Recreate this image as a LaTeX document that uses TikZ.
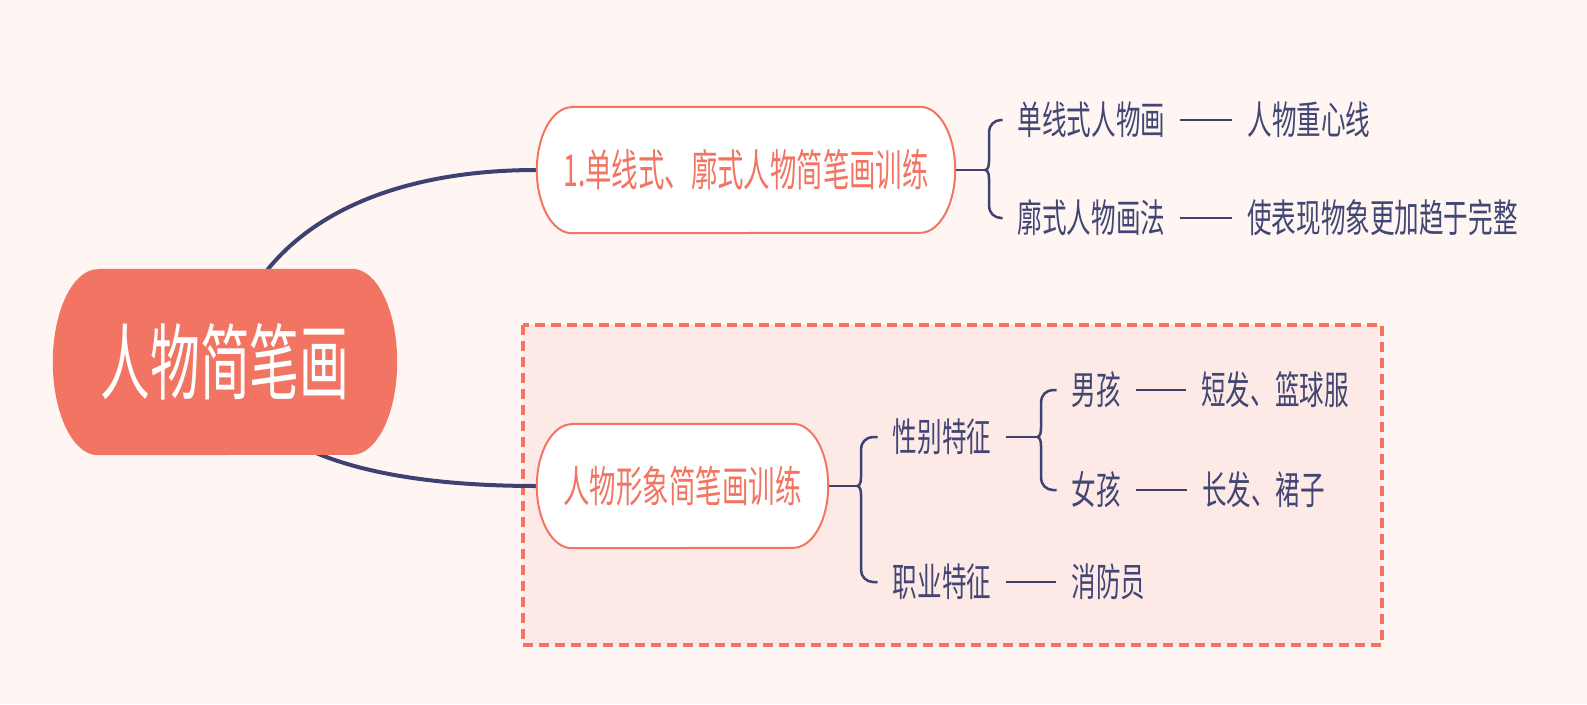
\documentclass[tikz,border=0pt]{standalone}
\usepackage{fontspec}
\newfontfamily\cjk{Noto Sans CJK SC}
\usetikzlibrary{calc}
\pgfdeclarelayer{bglayer}
\pgfdeclarelayer{lines}
\pgfdeclarelayer{pills}
\pgfsetlayers{bglayer,lines,pills,main}
\definecolor{bgc}{RGB}{255,246,244}
\definecolor{boxfill}{RGB}{253,234,231}
\definecolor{salmon}{RGB}{242,117,99}
\definecolor{navy}{RGB}{62,66,112}
\definecolor{navytext}{RGB}{66,70,114}
\newcommand\sq[2][0.63]{\scalebox{#1}[1]{#2}}
\newcommand\mypill[4]{\path[#4] ($(#1.north west)+(#2,0)$) -- ($(#1.north east)+(-#2,0)$) arc[start angle=-90,end angle=90,x radius=#2,y radius=#3] -- ($(#1.south west)+(#2,0)$) arc[start angle=90,end angle=270,x radius=#2,y radius=#3] -- cycle;}
\newcommand\bracehalf[4]{\draw[link] (#1) .. controls +(3,0) and +(0,#4) .. ($(#1)+(4,#3)$) [rounded corners=12pt] |- (#2.west);}
\tikzset{
  boundary/.style={draw=salmon, line width=3.5pt, dash pattern=on 10pt off 6pt, fill=boxfill},
  mainline/.style={draw=navy, line width=4pt},
  link/.style={draw=navy, line width=2.5pt},
  pillstyle/.style={fill=white, draw=salmon, line width=2pt},
  rootstyle/.style={fill=salmon},
  lbl/.style={text=navytext, font=\cjk\fontsize{39pt}{39pt}\selectfont, inner xsep=15pt, inner ysep=0pt, text height=32pt, text depth=2.4pt},
  topicone/.style={text=salmon, font=\cjk\fontsize{44pt}{44pt}\selectfont, inner sep=0pt, text height=36pt, text depth=2.6pt},
  topictwo/.style={text=salmon, font=\cjk\fontsize{43pt}{43pt}\selectfont, inner sep=0pt, text height=35.3pt, text depth=2.6pt},
  rootnode/.style={text=white, font=\cjk\fontsize{83pt}{83pt}\selectfont, inner sep=0pt, text height=68pt, text depth=5pt},
}
\begin{document}
\begin{tikzpicture}[x=1pt,y=-1pt]
\useasboundingbox (0,0) rectangle (1587,704);
\begin{pgfonlayer}{bglayer}
  \fill[bgc] (0,0) rectangle (1587,704);
  \path[boundary] (523,325) rectangle (1382,645);
\end{pgfonlayer}

% main nodes
\node[rootnode, minimum width=344pt, minimum height=186pt] (root) at (225,362) {\sq[0.6]{人物简笔画}};
\node[topicone, minimum width=418pt, minimum height=126pt] (n1) at (746,170) {\sq[0.6]{1.单线式、廓式人物简笔画训练}};
\node[topictwo, minimum width=291pt, minimum height=124pt] (n2) at (682.5,486) {\sq[0.615]{人物形象简笔画训练}};

% leaves of topic one
\node[lbl] (a1) at (1091.5,120) {\sq{单线式人物画}};
\node[lbl] (a1b) at (1309,120) {\sq{人物重心线}};
\node[lbl] (a2) at (1091.5,218) {\sq{廓式人物画法}};
\node[lbl] (a2b) at (1382.5,218) {\sq{使表现物象更加趋于完整}};

% leaves of topic two
\node[lbl] (g1) at (942,437) {\sq{性别特征}};
\node[lbl] (g2) at (942,582) {\sq{职业特征}};
\node[lbl] (g2b) at (1108.5,582) {\sq{消防员}};
\node[lbl] (b1) at (1096.5,390) {\sq{男孩}};
\node[lbl] (b1b) at (1275,390) {\sq{短发、篮球服}};
\node[lbl] (b2) at (1096.5,490) {\sq{女孩}};
\node[lbl] (b2b) at (1263.5,490) {\sq{长发、裙子}};

\coordinate (c1) at (985,170);
\coordinate (c2) at (857,486);
\coordinate (c3) at (1037,437);

\begin{pgfonlayer}{pills}
  \mypill{root}{45}{93}{rootstyle}
  \mypill{n1}{35}{63}{pillstyle}
  \mypill{n2}{35}{62}{pillstyle}
\end{pgfonlayer}

\begin{pgfonlayer}{lines}
  \draw[mainline] (root.center) .. controls (250,235) and (370,170) .. (n1.west);
  \draw[mainline] (root.center) .. controls (250,455) and (380,486) .. (n2.west);
  % topic one brace
  \draw[link] (n1.east) -- (c1);
  \bracehalf{c1}{a1}{-9}{5}
  \bracehalf{c1}{a2}{9}{-5}
  \draw[link] (a1) -- (a1b);
  \draw[link] (a2) -- (a2b);
  % topic two brace
  \draw[link] (n2.east) -- (c2);
  \bracehalf{c2}{g1}{-9}{5}
  \bracehalf{c2}{g2}{9}{-5}
  \draw[link] (g2) -- (g2b);
  % gender brace
  \draw[link] (g1.east) -- (c3);
  \bracehalf{c3}{b1}{-9}{5}
  \bracehalf{c3}{b2}{9}{-5}
  \draw[link] (b1) -- (b1b);
  \draw[link] (b2) -- (b2b);
\end{pgfonlayer}
\end{tikzpicture}
\end{document}
